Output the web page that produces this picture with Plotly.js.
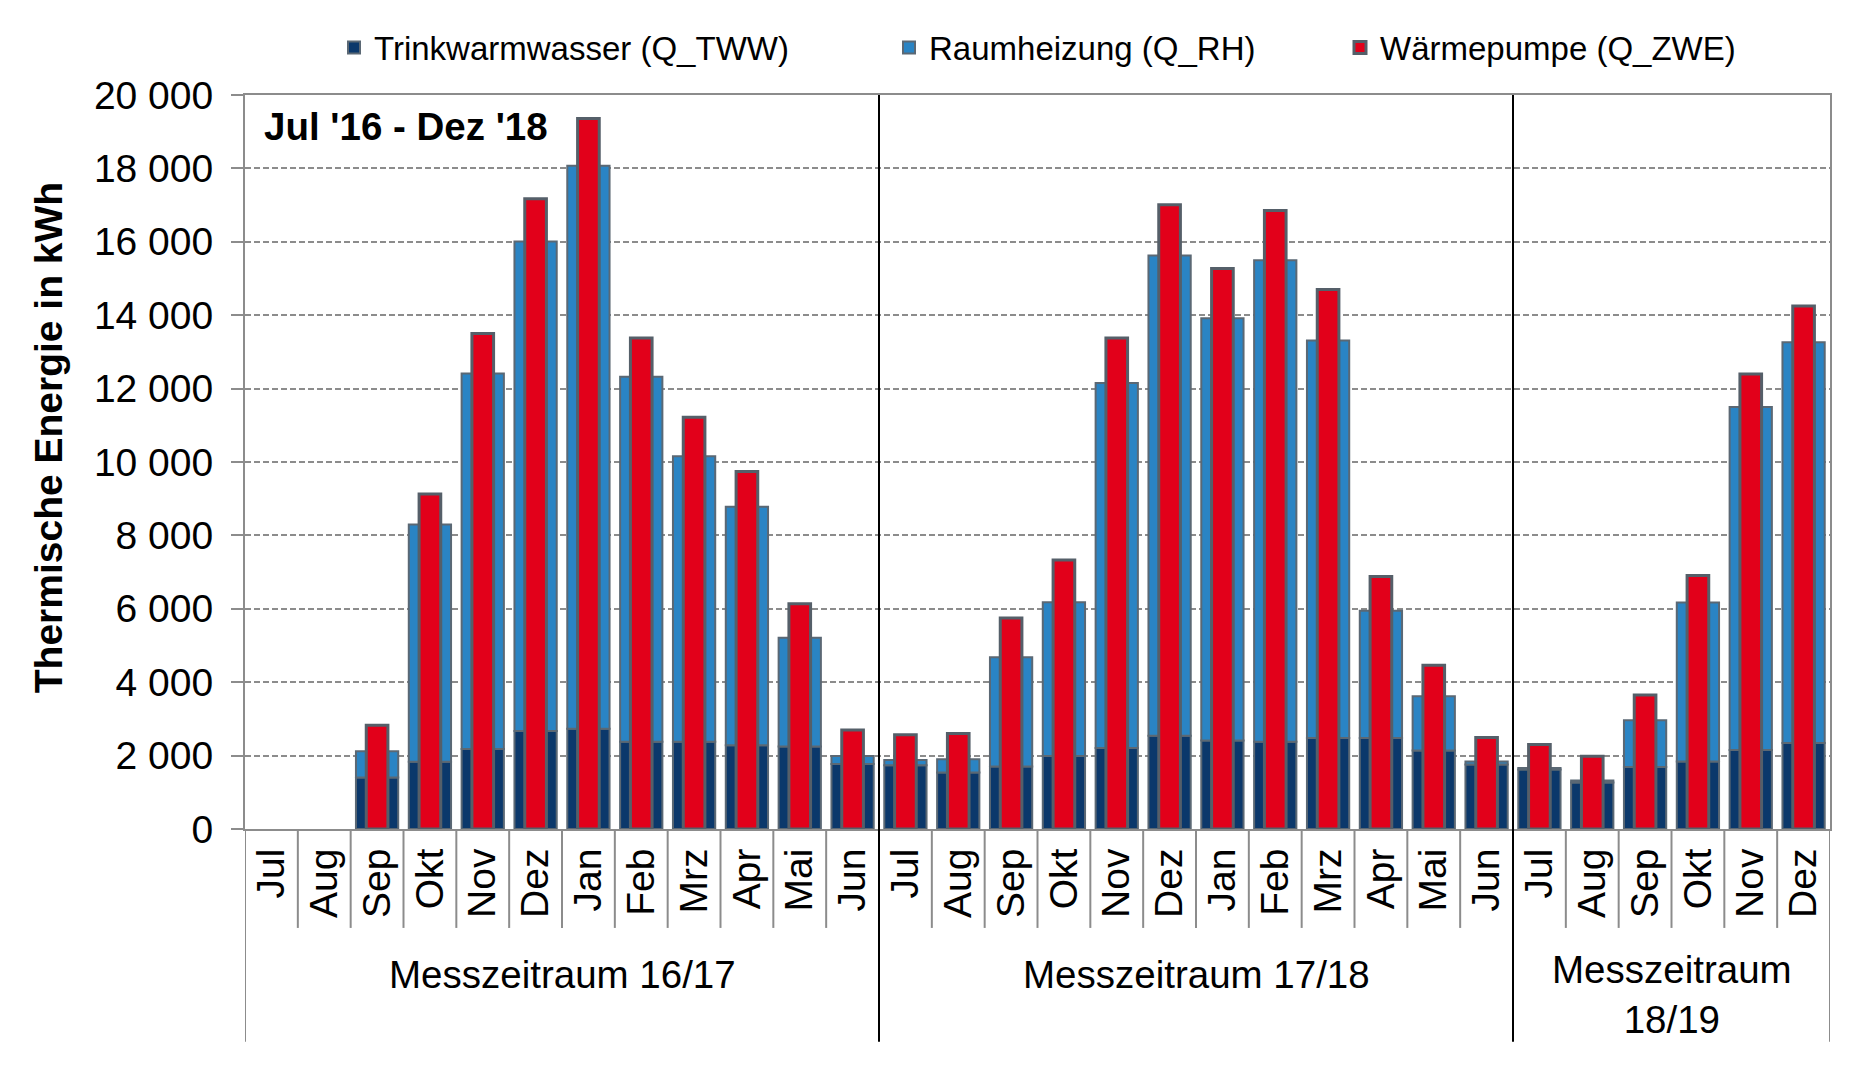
<!DOCTYPE html>
<html>
<head>
<meta charset="utf-8">
<script src="https://cdn.plot.ly/plotly-3.0.1.min.js"></script>
<style>
  html, body { margin: 0; padding: 0; background: #ffffff; }
  #chart { width: 1851px; height: 1065px; }
</style>
</head>
<body>
<div id="chart"></div>
<script>
// ---- Data ----
const months1617 = ['Jul','Aug','Sep','Okt','Nov','Dez','Jan','Feb','Mrz','Apr','Mai','Jun'];
const months1718 = ['Jul','Aug','Sep','Okt','Nov','Dez','Jan','Feb','Mrz','Apr','Mai','Jun'];
const months1819 = ['Jul','Aug','Sep','Okt','Nov','Dez'];
const periodLabels = ['Messzeitraum 16/17', 'Messzeitraum 17/18', 'Messzeitraum<br>18/19'];

// Trinkwarmwasser (Q_TWW), kWh
const qTWW = [null, null, 1400, 1830, 2180, 2670, 2730, 2380, 2380, 2280, 2250, 1770,
              1740, 1540, 1700, 1990, 2210, 2540, 2410, 2380, 2480, 2480, 2140, 1760,
              1620, 1270, 1690, 1840, 2150, 2340];
// Raumheizung (Q_RH), kWh (stacked on top of Q_TWW)
const qRH  = [null, null, 720, 6470, 10230, 13340, 15340, 9940, 7780, 6500, 2960, 220,
              140, 360, 2980, 4190, 9940, 13090, 11510, 13120, 10830, 3470, 1480, 80,
              40, 50, 1270, 4330, 9350, 10920];
// Wärmepumpe (Q_ZWE), kWh
const qZWE = [null, null, 2830, 9130, 13500, 17170, 19360, 13380, 11220, 9740, 6140, 2700,
              2570, 2600, 5750, 7330, 13380, 17010, 15270, 16850, 14700, 6880, 4460, 2490,
              2300, 1980, 3650, 6910, 12400, 14250];

const seriesNames = ['Trinkwarmwasser (Q_TWW)', 'Raumheizung (Q_RH)', 'Wärmepumpe (Q_ZWE)'];
const annotationText = "Jul '16 - Dez '18";
const yTitle = 'Thermische Energie in kWh';

// ---- Derived ----
const groups = [months1617, months1718, months1819];
const months = groups.flat();
const xs = months.map((_, i) => i);
const baseRH = qTWW.map(v => (v == null ? 0 : v));

const FONT = '"Liberation Sans", Arial, sans-serif';
const GRAY = '#8c8c8c';
const EDGE = '#5b6874';

const traces = [
  {
    type: 'bar', name: seriesNames[0], x: xs, y: qTWW, width: 0.80,
    marker: { color: '#0b386b', line: { color: EDGE, width: 2 } },
    legend: 'legend', hoverinfo: 'y+name'
  },
  {
    type: 'bar', name: seriesNames[1], x: xs, y: qRH, base: baseRH, width: 0.80,
    marker: { color: '#2a84c4', line: { color: EDGE, width: 2 } },
    legend: 'legend2', hoverinfo: 'y+name'
  },
  {
    type: 'bar', name: seriesNames[2], x: xs, y: qZWE, width: 0.41,
    marker: { color: '#e2001a', line: { color: '#555f69', width: 3 } },
    legend: 'legend3', hoverinfo: 'y+name'
  }
];

// geometry of plot area (px)
const W = 1851, H = 1065;
const mL = 245, mR = 21, mT = 94.5, mB = 236;
const plotH = H - mT - mB;
const pxToPaperY = py => (H - mB - py) / plotH;
const pxToPaperX = px => (px - mL) / (W - mL - mR);

const shapes = [];
// month separators below the axis
const periodBounds = [];
let acc = 0;
groups.forEach((g, gi) => { acc += g.length; if (gi < groups.length - 1) periodBounds.push(acc - 0.5); });
for (let i = 0; i < months.length - 1; i++) {
  const xb = i + 0.5;
  if (periodBounds.includes(xb)) continue;
  shapes.push({ type: 'line', xref: 'x', yref: 'paper', x0: xb, x1: xb,
    y0: 0, y1: pxToPaperY(928), line: { color: GRAY, width: 2 } });
}
// left and right frame extensions into label area
[-0.5, months.length - 0.5].forEach(xb => {
  shapes.push({ type: 'line', xref: 'x', yref: 'paper', x0: xb, x1: xb,
    y0: 0, y1: pxToPaperY(1042), line: { color: GRAY, width: 2 } });
});
// black period boundaries
periodBounds.forEach(xb => {
  shapes.push({ type: 'line', xref: 'x', yref: 'paper', x0: xb, x1: xb,
    y0: 1, y1: pxToPaperY(1042), line: { color: '#000000', width: 2 } });
});

const annotations = [];
// period labels
acc = 0;
groups.forEach((g, gi) => {
  const center = acc + (g.length - 1) / 2;
  acc += g.length;
  annotations.push({
    xref: 'x', yref: 'paper', x: center, y: pxToPaperY(gi === 2 ? 995 : 975),
    text: periodLabels[gi], showarrow: false, xanchor: 'center', yanchor: 'middle',
    font: { family: FONT, size: 38.5, color: '#000' }
  });
});
annotations.push({
  xref: 'paper', yref: 'paper', x: pxToPaperX(262), y: pxToPaperY(126),
  text: '<b>' + annotationText + '</b>', showarrow: false, xanchor: 'left', yanchor: 'middle',
  font: { family: FONT, size: 38.5, color: '#000' }
});
// y-axis title (placed as in the reference, slightly above the plot centre)
annotations.push({
  xref: 'paper', yref: 'paper', x: pxToPaperX(48), y: pxToPaperY(438),
  text: '<b>' + yTitle + '</b>', showarrow: false, textangle: -90,
  xanchor: 'center', yanchor: 'middle',
  font: { family: FONT, size: 39, color: '#000' }
});

const legendCommon = {
  orientation: 'h', yanchor: 'middle', xanchor: 'left', y: pxToPaperY(47),
  bgcolor: 'rgba(0,0,0,0)', font: { family: FONT, size: 33, color: '#000' },
  itemwidth: 30
};

const layout = {
  width: W, height: H,
  margin: { l: mL, r: mR, t: mT, b: mB, pad: 0 },
  paper_bgcolor: '#ffffff', plot_bgcolor: '#ffffff',
  separators: ', ',
  barmode: 'overlay',
  font: { family: FONT, color: '#000' },
  xaxis: {
    type: 'linear', range: [-0.5, months.length - 0.5],
    tickmode: 'array', tickvals: xs, ticktext: months, tickangle: -90,
    tickfont: { family: FONT, size: 39, color: '#000' },
    ticks: '', ticklabelstandoff: 2,
    showgrid: false, zeroline: false,
    showline: true, linecolor: GRAY, linewidth: 2, mirror: true
  },
  yaxis: {
    range: [0, 20000], dtick: 2000, tick0: 0, tickformat: ',d',
    tickfont: { family: FONT, size: 39, color: '#000' },
    ticks: 'outside', ticklen: 12, tickwidth: 2, tickcolor: GRAY,
    ticklabelstandoff: 10,
    showgrid: true, gridcolor: GRAY, gridwidth: 2, griddash: '6px,3px',
    zeroline: false,
    showline: true, linecolor: GRAY, linewidth: 2, mirror: true
  },
  legend: Object.assign({}, legendCommon, { x: pxToPaperX(334) }),
  legend2: Object.assign({}, legendCommon, { x: pxToPaperX(889) }),
  legend3: Object.assign({}, legendCommon, { x: pxToPaperX(1340) }),
  shapes: shapes,
  annotations: annotations,
  showlegend: true
};

Plotly.newPlot('chart', traces, layout, { displayModeBar: false, responsive: false });
</script>
</body>
</html>
